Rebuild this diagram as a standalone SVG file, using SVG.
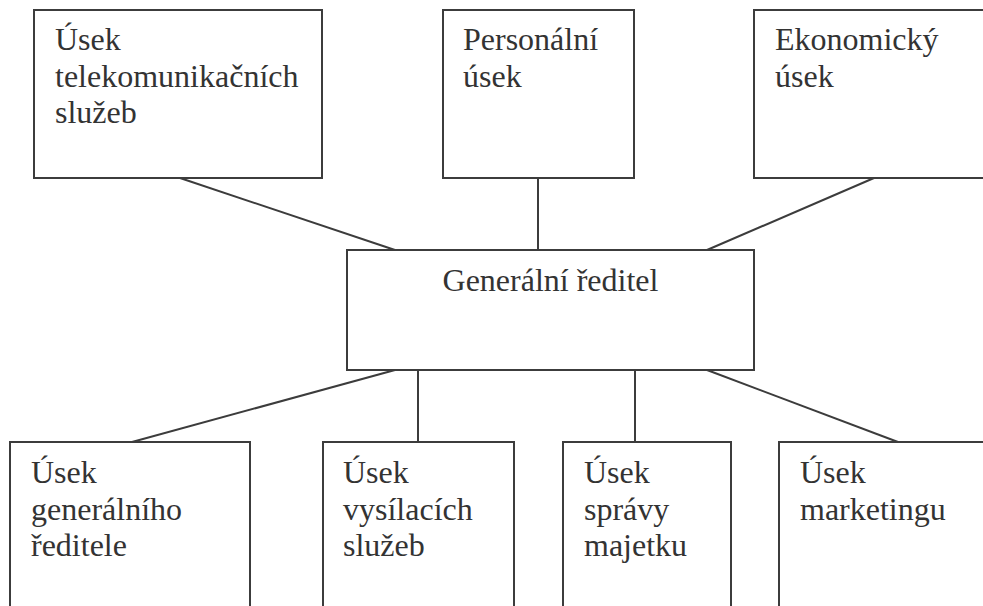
<svg xmlns="http://www.w3.org/2000/svg" width="983" height="606" viewBox="0 0 983 606">
<style>
rect{fill:#fff;stroke:#3c3c3c;stroke-width:2}
line{stroke:#3c3c3c;stroke-width:2}
.t{font-family:"Liberation Serif","Tinos","Times New Roman","DejaVu Serif",serif;font-size:32px;fill:#333}
</style>
<rect x="0" y="0" width="983" height="606" style="stroke:none"/>
<g id="connectors">
<line x1="180" y1="178" x2="395" y2="250"/>
<line x1="538" y1="178" x2="538" y2="250"/>
<line x1="874" y1="178" x2="707" y2="250"/>
<line x1="395" y1="370" x2="132" y2="442"/>
<line x1="418" y1="370" x2="418" y2="442"/>
<line x1="635" y1="370" x2="635" y2="442"/>
<line x1="707" y1="370" x2="898" y2="442"/>
</g>
<g id="telekom">
<rect x="34" y="10" width="288" height="168"/>
<text class="t" x="55" y="50">Úsek</text>
<text class="t" x="55" y="86.5">telekomunikačních</text>
<text class="t" x="55" y="123">služeb</text>
</g>
<g id="personalni">
<rect x="443" y="10" width="191" height="168"/>
<text class="t" x="463" y="50" font-family="Times New Roman">Personální</text>
<text class="t" x="463" y="86.5">úsek</text>
</g>
<g id="ekonomicky">
<rect x="754" y="10" width="260" height="168"/>
<text class="t" x="775" y="50">Ekonomický</text>
<text class="t" x="775" y="86.5">úsek</text>
</g>
<g id="generalni">
<rect x="347" y="250" width="407" height="120"/>
<text class="t" x="550.5" y="291" text-anchor="middle">Generální ředitel</text>
</g>
<g id="gen-usek">
<rect x="10" y="442" width="240" height="200"/>
<text class="t" x="31" y="483">Úsek</text>
<text class="t" x="31" y="519.5">generálního</text>
<text class="t" x="31" y="556">ředitele</text>
</g>
<g id="vysilaci">
<rect x="323" y="442" width="191" height="200"/>
<text class="t" x="343" y="483">Úsek</text>
<text class="t" x="343" y="519.5">vysílacích</text>
<text class="t" x="343" y="556">služeb</text>
</g>
<g id="spravy">
<rect x="563" y="442" width="168" height="200"/>
<text class="t" x="584" y="483">Úsek</text>
<text class="t" x="584" y="519.5">správy</text>
<text class="t" x="584" y="556">majetku</text>
</g>
<g id="marketing">
<rect x="779" y="442" width="240" height="200"/>
<text class="t" x="800" y="483">Úsek</text>
<text class="t" x="800" y="519.5">marketingu</text>
</g>
</svg>
